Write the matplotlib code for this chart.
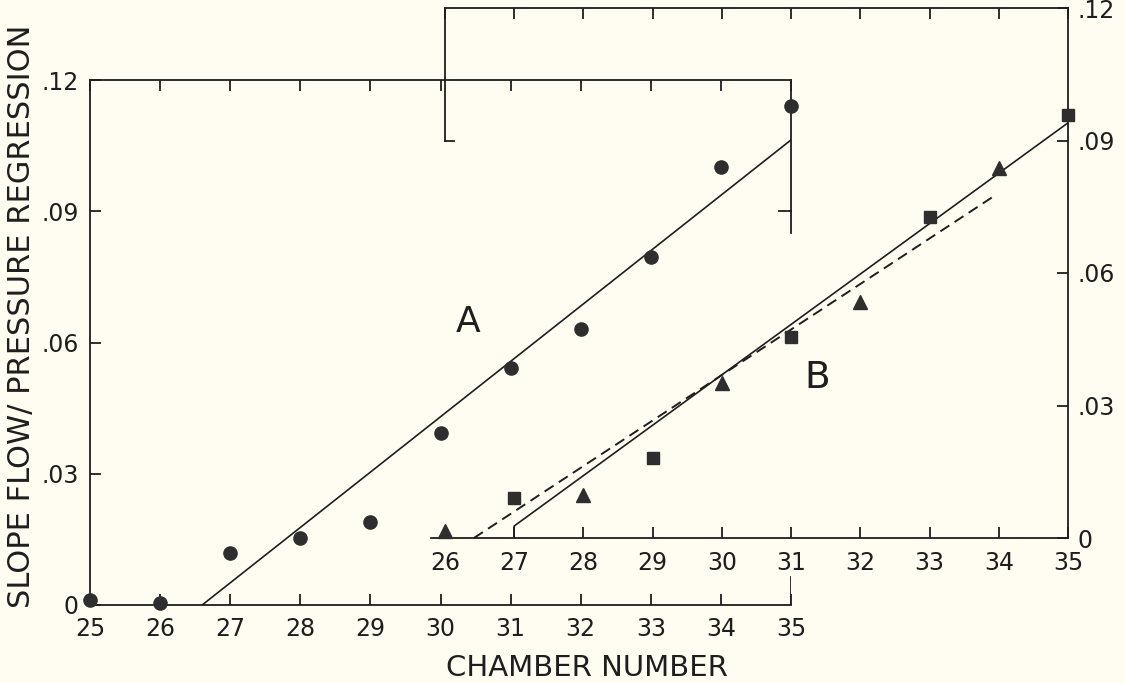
import matplotlib
matplotlib.use("Agg")
import matplotlib.pyplot as plt

# ---------------- data ----------------
# Panel A: circles, chambers 25-35 (bottom/left axes)
a_chamber = [25, 26, 27, 28, 29, 30, 31, 32, 33, 34, 35]
a_slope = [0.0011, 0.0005, 0.0119, 0.0153, 0.0190, 0.0393, 0.0542,
           0.0631, 0.0795, 0.1001, 0.1141]
a_fit_x = [26.6, 35.0]
a_fit_y = [0.0, 0.1063]

# Panel B: triangles and squares, chambers 26-35 (offset upper/right axes)
b_tri_chamber = [26, 28, 30, 32, 34]
b_tri_slope = [0.0015, 0.0097, 0.0351, 0.0534, 0.0838]
b_sq_chamber = [27, 29, 31, 33, 35]
b_sq_slope = [0.0091, 0.0181, 0.0455, 0.0727, 0.0958]
b_solid_x = [27.0, 27.0, 35.0]
b_solid_y = [0.0, 0.0027, 0.0940]
b_dash_x = [26.42, 33.93]
b_dash_y = [0.0, 0.0774]

a_xticks = list(range(25, 36))
b_xticks = list(range(26, 36))
y_ticks = [0, 0.03, 0.06, 0.09, 0.12]
y_ticklabels = ["0", ".03", ".06", ".09", ".12"]

# ---------------- style ----------------
plt.rcParams['font.family'] = ['DejaVu Sans']
bg = '#FFFDF2'
ink = '#1e1e1e'
mk = '#2e2e2e'
W, H = 1125, 683
TLS = 17


def box(l, r, t, b):
    return [l / W, (H - b) / H, (r - l) / W, (b - t) / H]


fig = plt.figure(figsize=(W / 100, H / 100), dpi=100)
fig.patch.set_facecolor(bg)

axA = fig.add_axes(box(90, 791, 80, 605))
axB = fig.add_axes(box(431, 1068, 8, 538))
for ax in (axA, axB):
    ax.set_facecolor('none')
    for s in ax.spines.values():
        s.set_color(ink)
        s.set_linewidth(1.3)

# ---- Panel A axes ----
axA.set_xlim(25, 35)
axA.set_ylim(0, 0.12)
axA.spines['right'].set_bounds(0.085, 0.12)
axA.set_xticks(a_xticks)
axA.set_xticklabels([str(v) for v in a_xticks])
axA.set_yticks(y_ticks)
axA.set_yticklabels(y_ticklabels)
axA.tick_params(axis='x', direction='in', top=True, bottom=True, length=8,
                width=1.3, labelsize=TLS, pad=9, color=ink, labelcolor=ink)
axA.tick_params(axis='y', direction='in', left=True, right=False, length=8,
                width=1.3, labelsize=TLS, pad=8, color=ink, labelcolor=ink)
# lower stub of the right frame and the lone .09 tick on the right
axA.axvline(35, 0, 0.053, color=ink, lw=1.3)
axA.plot([0.983, 1.0], [0.09, 0.09], transform=axA.get_yaxis_transform(),
         color=ink, lw=1.3, clip_on=False)

axA.plot(a_fit_x, a_fit_y, '-', color=ink, lw=1.2)
axA.plot(a_chamber, a_slope, 'o', ms=9.5, color=mk, clip_on=False, zorder=5)
axA.text(30.4, 0.0647, 'A', ha='center', va='center', fontsize=26, color=ink)

# ---- Panel B axes ----
axB.set_xlim(25.8, 35)
axB.set_ylim(0, 0.12)
axB.spines['left'].set_position(('data', 26))
axB.spines['left'].set_bounds(0.09, 0.12)
axB.spines['top'].set_bounds(26, 35)
axB.set_xticks(b_xticks)
axB.set_xticklabels([str(v) for v in b_xticks])
axB.yaxis.tick_right()
axB.set_yticks(y_ticks)
axB.set_yticklabels(y_ticklabels)
axB.tick_params(axis='x', direction='in', top=True, bottom=True, length=8,
                width=1.3, labelsize=TLS, pad=9, color=ink, labelcolor=ink)
axB.tick_params(axis='y', direction='in', left=False, right=True,
                labelleft=False, labelright=True, length=8, width=1.3,
                labelsize=TLS, pad=7, color=ink, labelcolor=ink)
axB.plot([0.0217, 0.036], [0.09, 0.09], transform=axB.get_yaxis_transform(),
         color=ink, lw=1.3, clip_on=False)

axB.plot(b_solid_x, b_solid_y, '-', color=ink, lw=1.2)
axB.plot(b_dash_x, b_dash_y, '--', color=ink, lw=1.4, dashes=(5.5, 3.2))
axB.plot(b_tri_chamber, b_tri_slope, '^', ms=10.5, color=mk, clip_on=False, zorder=5)
axB.plot(b_sq_chamber, b_sq_slope, 's', ms=9, color=mk, clip_on=False, zorder=5)
axB.text(31.38, 0.0362, 'B', ha='center', va='center', fontsize=27, color=ink)

# ---- axis titles ----
fig.text(22 / W, 1 - 316 / H, 'SLOPE FLOW/ PRESSURE REGRESSION', rotation=90,
         ha='center', va='center', fontsize=22, color=ink)
fig.text(587 / W, 1 - 668 / H, 'CHAMBER NUMBER', ha='center', va='center',
         fontsize=21, color=ink)

fig.savefig('out.png', dpi=100, facecolor=bg)
